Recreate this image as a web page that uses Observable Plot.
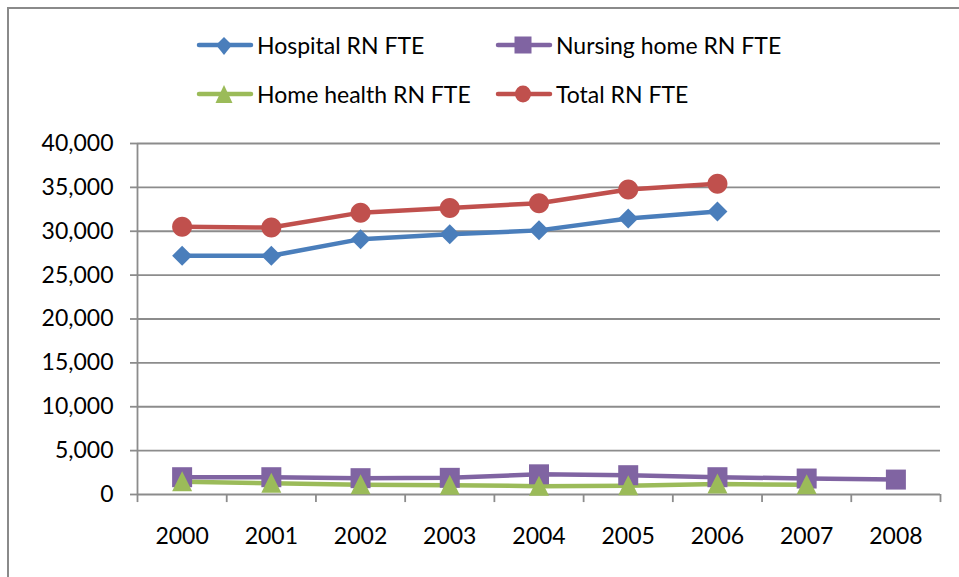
<!DOCTYPE html>
<html><head><meta charset="utf-8">
<script src="https://cdn.jsdelivr.net/npm/d3@7"></script>
<script src="https://cdn.jsdelivr.net/npm/@observablehq/plot@0.6"></script>
<style>
body{margin:0;background:#fff;font-family:Lato, "Open Sans", sans-serif;}
#wrap{position:relative;width:959px;height:577px;overflow:hidden;background:#fff;}
#frame{position:absolute;left:7px;top:7px;width:1000px;height:1000px;border-left:2px solid #8a8a8a;border-top:2px solid #8a8a8a;pointer-events:none;}
#chart{position:absolute;left:0;top:0;}
.lg{position:absolute;display:flex;align-items:center;font-size:23px;color:#000;white-space:nowrap;line-height:26px;}
.lg svg{margin-right:3px;flex:none;}
</style></head>
<body><div id="wrap"><div id="chart"></div><div id="frame"></div></div>
<script>
const years = [2000, 2001, 2002, 2003, 2004, 2005, 2006, 2007, 2008];
const hospital = [27200, 27200, 29100, 29650, 30100, 31450, 32250];
const nursingHome = [1970, 1970, 1860, 1900, 2300, 2200, 1970, 1820, 1700];
const homeHealth = [1450, 1280, 1100, 1060, 950, 1000, 1200, 1100];
const total = [30500, 30420, 32120, 32650, 33200, 34750, 35400];
const seriesNames = ["Hospital RN FTE", "Nursing home RN FTE", "Home health RN FTE", "Total RN FTE"];
const seriesValues = [hospital, nursingHome, homeHealth, total];
const seriesColors = ["#4A7EBB", "#8064A2", "#9BBB59", "#C0504D"];
const yTicks = [0, 5000, 10000, 15000, 20000, 25000, 30000, 35000, 40000];

// marker shapes (custom d3 symbol types)
function ell(c, rx, ry){const k=0.5523;c.moveTo(rx,0);c.bezierCurveTo(rx,ry*k,rx*k,ry,0,ry);c.bezierCurveTo(-rx*k,ry,-rx,ry*k,-rx,0);c.bezierCurveTo(-rx,-ry*k,-rx*k,-ry,0,-ry);c.bezierCurveTo(rx*k,-ry,rx,-ry*k,rx,0);c.closePath();}
const symDiamond = {draw(c){c.moveTo(0,-10);c.lineTo(10,0);c.lineTo(0,10);c.lineTo(-10,0);c.closePath();}};
const symSquare = {draw(c){c.rect(-10,-10,20,20);}};
const symTriangle = {draw(c){c.moveTo(0,-10.5);c.lineTo(10,9.5);c.lineTo(-10,9.5);c.closePath();}};
const symCircle = {draw(c){ell(c,10,10);}};
const seriesSymbols = [symDiamond, symSquare, symTriangle, symCircle];

const rows = [];
seriesNames.forEach((name, i) => {
  seriesValues[i].forEach((v, j) => rows.push({series: name, year: years[j], value: v}));
});
const boundaries = years.map(y => y - 0.5).concat([years[years.length-1] + 0.5]);
const grid = "#8c8c8c";
const font = "Lato, 'Open Sans', sans-serif";

const marks = [
  Plot.ruleY(yTicks.filter(d => d > 0), {stroke: grid, strokeWidth: 1.8}),
  Plot.ruleX([boundaries[0]], {y1: 0, y2: yTicks[yTicks.length-1], stroke: grid, strokeWidth: 1.8}),
  Plot.ruleY([0], {stroke: grid, strokeWidth: 1.8}),
  Plot.ruleX(boundaries, {y1: 0, y2: -920, stroke: grid, strokeWidth: 1.8}),
  Plot.axisY({ticks: yTicks, tickFormat: d3.format(","), tickSize: 7, tickPadding: 17, fontSize: 23, stroke: grid, strokeWidth: 1.8, fill: "#000", label: null}),
  Plot.axisX({ticks: years, tickFormat: d => String(d), tickSize: 0, tickPadding: 33, fontSize: 23, fill: "#000", label: null})
];
seriesNames.forEach((name, i) => {
  const d = rows.filter(r => r.series === name);
  marks.push(Plot.line(d, {x: "year", y: "value", stroke: seriesColors[i], strokeWidth: 4.5, strokeLinejoin: "round"}));
});
seriesNames.forEach((name, i) => {
  const d = rows.filter(r => r.series === name);
  marks.push(Plot.dot(d, {x: "year", y: "value", symbol: () => seriesSymbols[i], fill: seriesColors[i], stroke: "none", r: 10}));
});

const chart = Plot.plot({
  width: 959, height: 577,
  marginLeft: 137, marginRight: 19, marginTop: 143, marginBottom: 83,
  style: {fontFamily: font, fontSize: "23px", background: "transparent", overflow: "visible"},
  x: {type: "linear", domain: [boundaries[0], boundaries[boundaries.length-1]], axis: null},
  y: {domain: [0, 40000], axis: null},
  symbol: {type: "identity"},
  marks
});
document.getElementById("chart").appendChild(chart);

// legend
const legendPos = [[196, 45], [495, 45], [196, 94], [495, 94]];
const legendShapes = [
  () => `<path d="M28,5 L36,13 L28,23 L20,13Z"/>`,
  () => `<rect x="19.5" y="4.5" width="17" height="17"/>`,
  () => `<path d="M28,4 L36.5,22 L19.5,22Z"/>`,
  () => `<ellipse cx="28" cy="13" rx="8" ry="8.5"/>`
];
seriesNames.forEach((name, i) => {
  const div = document.createElement("div");
  div.className = "lg";
  div.style.left = legendPos[i][0] + "px";
  div.style.top = (legendPos[i][1] - 13) + "px";
  div.innerHTML = `<svg width="58" height="26" viewBox="0 0 58 26"><line x1="3" y1="13" x2="55" y2="13" stroke="${seriesColors[i]}" stroke-width="4.5" stroke-linecap="round"/><g fill="${seriesColors[i]}">${legendShapes[i]()}</g></svg><span>${name}</span>`;
  document.getElementById("wrap").appendChild(div);
});
</script>
</body></html>
